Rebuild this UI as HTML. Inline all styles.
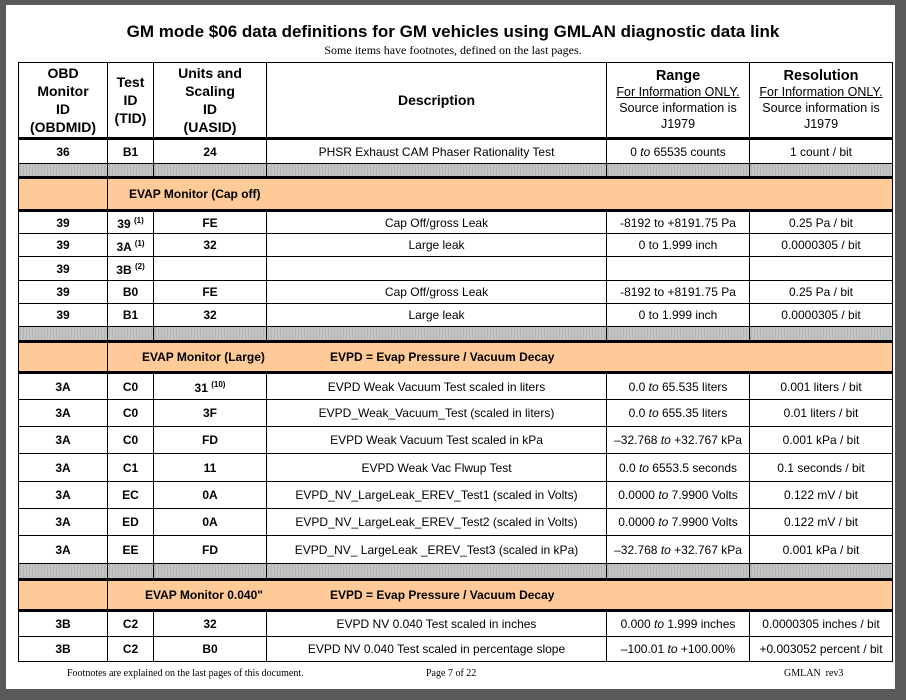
<!DOCTYPE html>
<html><head><meta charset="utf-8"><style>
html,body{margin:0;padding:0;}
body{width:906px;height:700px;background:#5a5a5a;position:relative;overflow:hidden;font-family:"Liberation Sans",Arial,sans-serif;}
.page{position:absolute;left:6px;top:5px;width:889px;height:684px;background:#fff;}
h1{position:absolute;left:0;top:22px;width:906px;margin:0;text-align:center;font-size:17px;font-weight:bold;color:#000;}
.sub{position:absolute;left:0;top:43px;width:906px;text-align:center;font-family:"Liberation Serif",serif;font-size:12px;}
table{position:absolute;left:18px;top:62px;width:874px;border-collapse:collapse;table-layout:fixed;}
td{border:1px solid #000;padding:0;text-align:center;font-size:12px;color:#000;vertical-align:middle;line-height:14px;}
.hd td{font-weight:bold;font-size:14px;line-height:18px;border-bottom:3px solid #000;}
.hd td.r{font-size:12.5px;font-weight:normal;line-height:16px;}
.hd td.r b{font-size:14.5px;}
u{text-decoration:underline;}
.b{font-weight:bold;}
.g td{background:repeating-linear-gradient(90deg,#b4b4b4 0 2px,#d4d4d4 2px 3px);}
.o td{background:#fdca98;border-top:3px solid #000;border-bottom:3px solid #000;font-weight:bold;text-align:left;}
sup{font-size:8px;vertical-align:5px;}
.foot{position:absolute;top:668px;font-family:"Liberation Serif",serif;font-size:10px;}
</style></head><body>
<div class="page"></div>
<h1>GM mode $06 data definitions for GM vehicles using GMLAN diagnostic data link</h1>
<div class="sub">Some items have footnotes, defined on the last pages.</div>
<table>
<colgroup><col style="width:89px"><col style="width:46px"><col style="width:113px"><col style="width:340px"><col style="width:143px"><col style="width:143px"></colgroup>
<tr class="hd" style="height:76px"><td>OBD<br>Monitor<br>ID<br>(OBDMID)</td><td>Test<br>ID<br>(TID)</td><td>Units and<br>Scaling<br>ID<br>(UASID)</td><td>Description</td><td class="r"><b>Range</b><br><u>For Information ONLY.</u><br>Source information is<br>J1979</td><td class="r"><b>Resolution</b><br><u>For Information ONLY.</u><br>Source information is<br>J1979</td></tr>
<tr style="height:25px"><td class="b">36</td><td class="b">B1</td><td class="b">24</td><td>PHSR Exhaust CAM Phaser Rationality Test</td><td>0 <i>to</i> 65535 counts</td><td>1 count / bit</td></tr>
<tr class="g" style="height:14px"><td></td><td></td><td></td><td></td><td></td><td></td></tr>
<tr class="o" style="height:33px"><td></td><td colspan="5"><span style="padding-left:21px">EVAP Monitor (Cap off)</span></td></tr>
<tr style="height:23px"><td class="b">39</td><td class="b">39 <sup>(1)</sup></td><td class="b">FE</td><td>Cap Off/gross Leak</td><td>-8192 to +8191.75 Pa</td><td>0.25 Pa / bit</td></tr>
<tr style="height:23px"><td class="b">39</td><td class="b">3A <sup>(1)</sup></td><td class="b">32</td><td>Large leak</td><td>0 to 1.999 inch</td><td>0.0000305 / bit</td></tr>
<tr style="height:24px"><td class="b">39</td><td class="b">3B <sup>(2)</sup></td><td></td><td></td><td></td><td></td></tr>
<tr style="height:23px"><td class="b">39</td><td class="b">B0</td><td class="b">FE</td><td>Cap Off/gross Leak</td><td>-8192 to +8191.75 Pa</td><td>0.25 Pa / bit</td></tr>
<tr style="height:23px"><td class="b">39</td><td class="b">B1</td><td class="b">32</td><td>Large leak</td><td>0 to 1.999 inch</td><td>0.0000305 / bit</td></tr>
<tr class="g" style="height:15px"><td></td><td></td><td></td><td></td><td></td><td></td></tr>
<tr class="o" style="height:31px"><td></td><td colspan="5"><span style="padding-left:34px;display:inline-block;width:188px">EVAP Monitor (Large)</span>EVPD = Evap Pressure / Vacuum Decay</td></tr>
<tr style="height:27px"><td class="b">3A</td><td class="b">C0</td><td class="b">31 <sup>(10)</sup></td><td>EVPD Weak Vacuum Test scaled in liters</td><td>0.0 <i>to</i> 65.535 liters</td><td>0.001 liters / bit</td></tr>
<tr style="height:27px"><td class="b">3A</td><td class="b">C0</td><td class="b">3F</td><td>EVPD_Weak_Vacuum_Test (scaled in liters)</td><td>0.0 <i>to</i> 655.35 liters</td><td>0.01 liters / bit</td></tr>
<tr style="height:27px"><td class="b">3A</td><td class="b">C0</td><td class="b">FD</td><td>EVPD Weak Vacuum Test scaled in kPa</td><td>–32.768 <i>to</i> +32.767 kPa</td><td>0.001 kPa / bit</td></tr>
<tr style="height:28px"><td class="b">3A</td><td class="b">C1</td><td class="b">11</td><td>EVPD Weak Vac Flwup Test</td><td>0.0 <i>to</i> 6553.5 seconds</td><td>0.1 seconds / bit</td></tr>
<tr style="height:27px"><td class="b">3A</td><td class="b">EC</td><td class="b">0A</td><td>EVPD_NV_LargeLeak_EREV_Test1 (scaled in Volts)</td><td>0.0000 <i>to</i> 7.9900 Volts</td><td>0.122 mV / bit</td></tr>
<tr style="height:27px"><td class="b">3A</td><td class="b">ED</td><td class="b">0A</td><td>EVPD_NV_LargeLeak_EREV_Test2 (scaled in Volts)</td><td>0.0000 <i>to</i> 7.9900 Volts</td><td>0.122 mV / bit</td></tr>
<tr style="height:28px"><td class="b">3A</td><td class="b">EE</td><td class="b">FD</td><td>EVPD_NV_ LargeLeak _EREV_Test3 (scaled in kPa)</td><td>–32.768 <i>to</i> +32.767 kPa</td><td>0.001 kPa / bit</td></tr>
<tr class="g" style="height:16px"><td></td><td></td><td></td><td></td><td></td><td></td></tr>
<tr class="o" style="height:31px"><td></td><td colspan="5"><span style="padding-left:37px;display:inline-block;width:185px">EVAP Monitor 0.040"</span>EVPD = Evap Pressure / Vacuum Decay</td></tr>
<tr style="height:26px"><td class="b">3B</td><td class="b">C2</td><td class="b">32</td><td>EVPD NV 0.040 Test scaled in inches</td><td>0.000 <i>to</i> 1.999 inches</td><td>0.0000305 inches / bit</td></tr>
<tr style="height:25px"><td class="b">3B</td><td class="b">C2</td><td class="b">B0</td><td>EVPD NV 0.040 Test scaled in percentage slope</td><td>–100.01 <i>to</i> +100.00%</td><td>+0.003052 percent / bit</td></tr>
</table>
<div class="foot" style="left:67px">Footnotes are explained on the last pages of this document.</div>
<div class="foot" style="left:426px">Page 7 of 22</div>
<div class="foot" style="left:784px">GMLAN&nbsp; rev3</div>
</body></html>
